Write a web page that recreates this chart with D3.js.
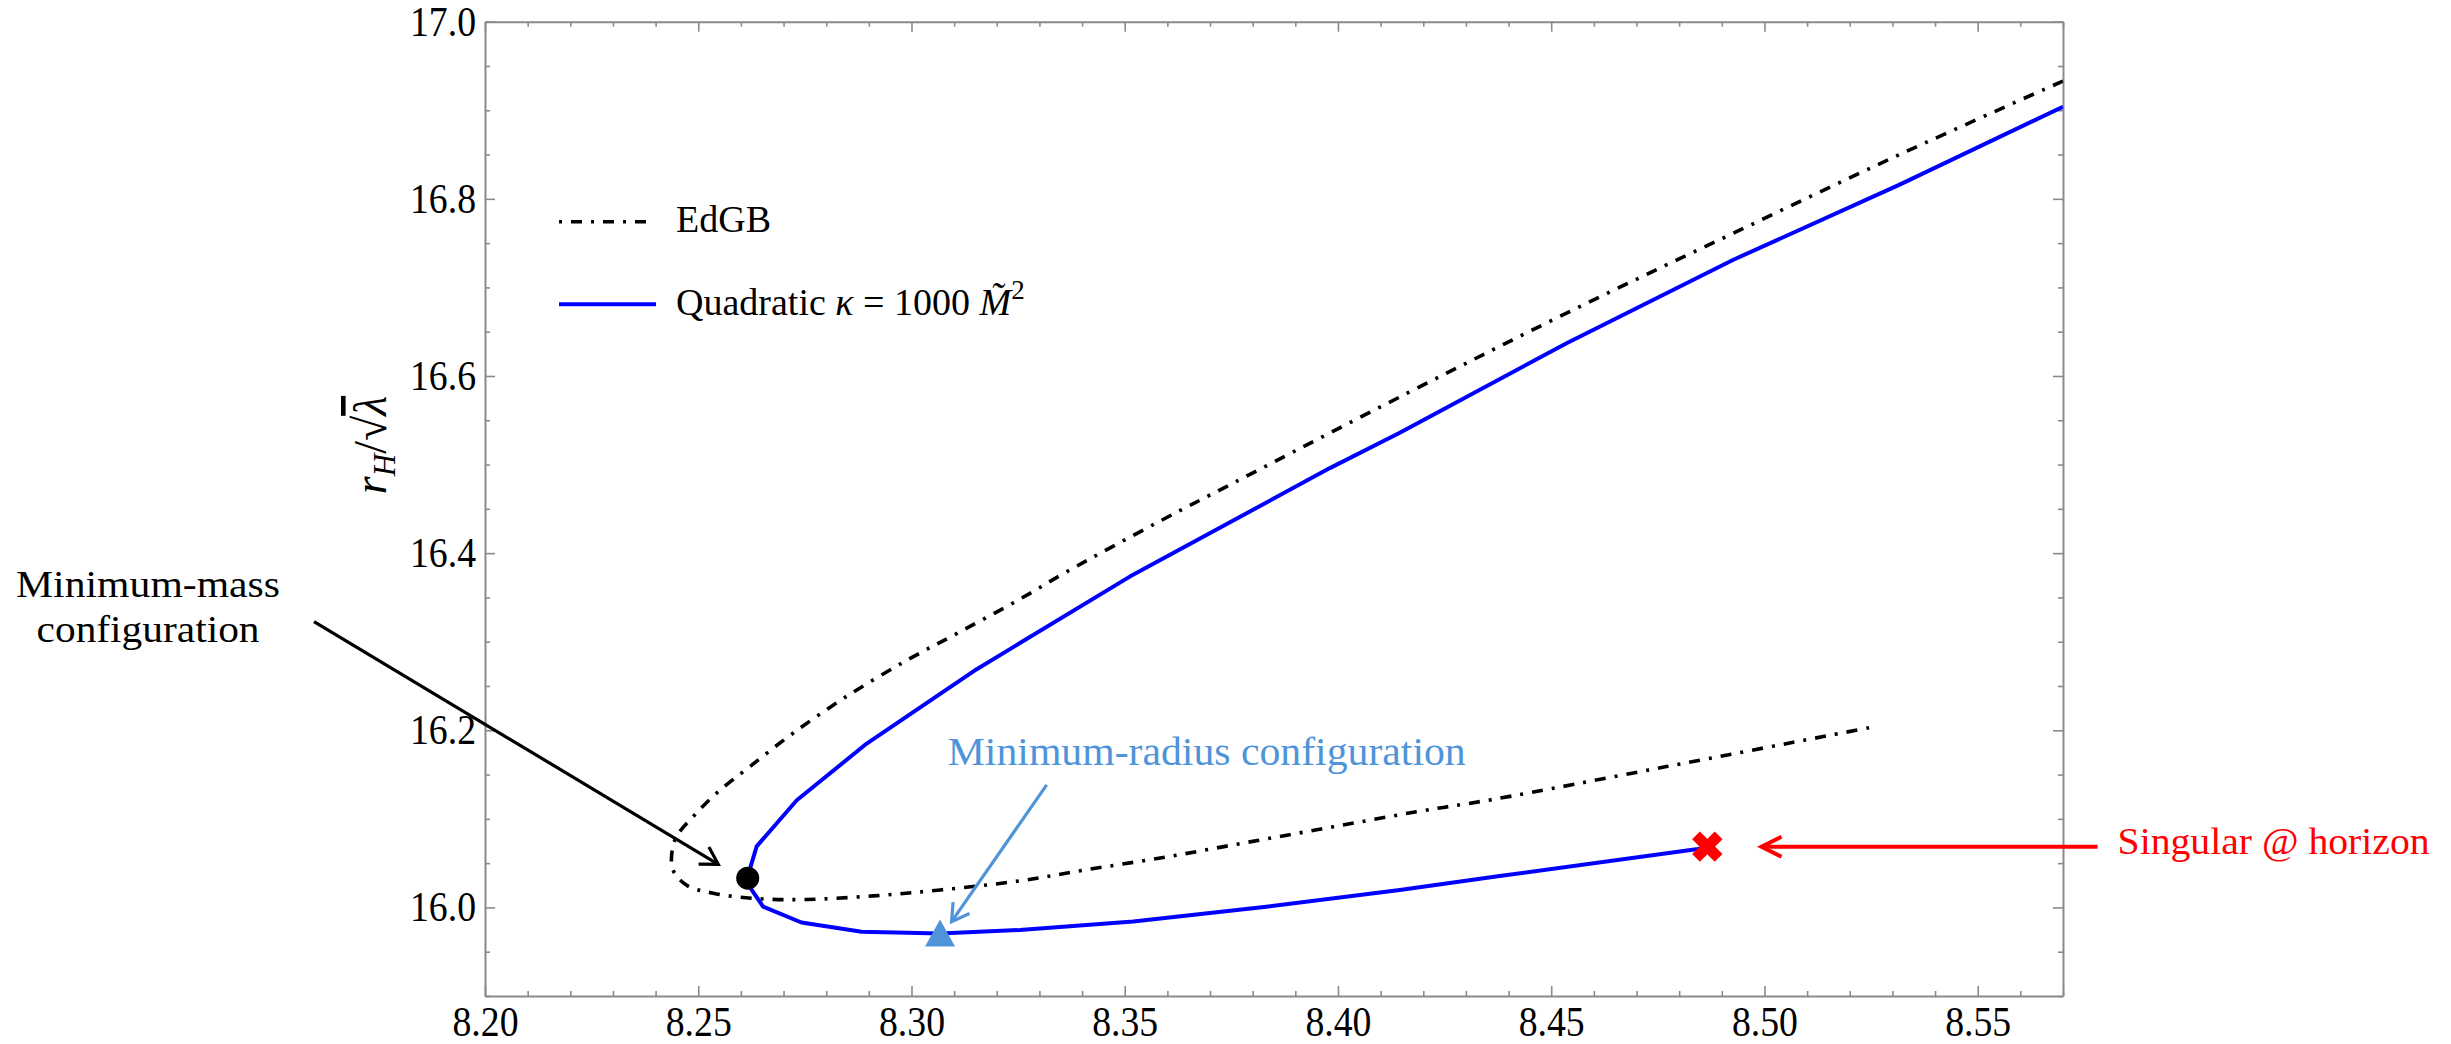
<!DOCTYPE html>
<html><head><meta charset="utf-8">
<script src="https://cdn.jsdelivr.net/npm/d3@7"></script>
<style>
body{margin:0;background:#fff}
text{font-family:"Liberation Serif","Times New Roman",serif}
</style>
</head><body>
<svg id="c" width="2451" height="1044"></svg>
<script>
// ---- data ----
const edgbM = [8.57,8.5317,8.4926,8.4536,8.416,8.3754,8.3582,8.3364,8.3254,8.3113,8.2989,8.2847,8.2723,8.2621,8.2543,8.2488,8.2449,8.2438,8.2441,8.2473,8.2535,8.2637,8.2754,8.2910,8.3067,8.3254,8.3403,8.3598,8.3793,8.3989,8.4184,8.4364,8.477,8.5247];
const edgbR = [16.933,16.850,16.761,16.671,16.580,16.479,16.436,16.379,16.348,16.311,16.279,16.238,16.197,16.159,16.129,16.1025,16.080,16.061,16.042,16.025,16.016,16.010,16.009,16.013,16.0197,16.030,16.042,16.057,16.074,16.091,16.108,16.122,16.159,16.203];
const quadM = [8.57,8.5317,8.4926,8.4536,8.4145,8.3981,8.3512,8.3153,8.2895,8.2731,8.2637,8.2616,8.2625,8.2652,8.2742,8.2883,8.3067,8.3254,8.352,8.3832,8.4145,8.4379,8.484,8.4866];
const quadR = [16.904,16.816,16.731,16.637,16.536,16.496,16.3735,16.269,16.185,16.121,16.069,16.035,16.020,16.001,15.983,15.9725,15.9707,15.9745,15.984,16.0008,16.0197,16.0355,16.0656,16.0686];
const minMass = [8.2616, 16.033];
const minRadius = [8.3067, 15.966];
const singular = [8.4866, 16.0686];
const xMajor = [8.20,8.25,8.30,8.35,8.40,8.45,8.50,8.55];
const yMajor = [16.0,16.2,16.4,16.6,16.8,17.0];
const xDomain = [8.20, 8.57];
const yDomain = [15.9, 17.0];
const legendLabels = ["EdGB", "Quadratic"];

// ---- layout ----
const L = 485, R = 2063, T = 21.7, B = 996;
const FONT = "Liberation Serif, Times New Roman, serif";
const svg = d3.select("#c");
const x = d3.scaleLinear(xDomain, [L, R]);
const y = d3.scaleLinear(yDomain, [B, T]);
const xMinor = d3.range(0, 38).map(i => +(8.20 + i*0.01).toFixed(2)).filter(v => !xMajor.some(m => Math.abs(m-v)<1e-6));
const yMinor = d3.range(0, 23).map(i => +(15.9 + i*0.05).toFixed(2)).filter(v => !yMajor.some(m => Math.abs(m-v)<1e-6));

const AX = "#8a8a8a";
function styleAxis(g, fs){
  g.attr("font-family", FONT).attr("font-size", fs);
  g.select(".domain").attr("stroke", AX).attr("stroke-width", 2);
  g.selectAll(".tick line").attr("stroke", AX).attr("stroke-width", 1.6);
  g.selectAll(".tick text").attr("fill", "#000").attr("font-family", FONT).attr("font-size", fs)
    .attr("textLength", 66).attr("lengthAdjust", "spacingAndGlyphs");
}
function minorAxis(gen, tr){
  const g = svg.append("g").attr("transform", tr).call(gen);
  g.select(".domain").remove();
  g.selectAll(".tick line").attr("stroke", AX).attr("stroke-width", 1.6);
  g.selectAll(".tick text").remove();
}
// minor ticks
minorAxis(d3.axisBottom(x).tickValues(xMinor).tickSize(-5).tickSizeOuter(0), `translate(0,${B})`);
minorAxis(d3.axisTop(x).tickValues(xMinor).tickSize(-5).tickSizeOuter(0), `translate(0,${T})`);
minorAxis(d3.axisLeft(y).tickValues(yMinor).tickSize(-5).tickSizeOuter(0), `translate(${L},0)`);
minorAxis(d3.axisRight(y).tickValues(yMinor).tickSize(-5).tickSizeOuter(0), `translate(${R},0)`);
// major
styleAxis(svg.append("g").attr("transform", `translate(0,${B})`)
  .call(d3.axisBottom(x).tickValues(xMajor).tickSize(-10).tickSizeOuter(0).tickPadding(10).tickFormat(d3.format(".2f"))), 42);
styleAxis(svg.append("g").attr("transform", `translate(0,${T})`)
  .call(d3.axisTop(x).tickValues(xMajor).tickSize(-10).tickSizeOuter(0).tickFormat("")), 42);
styleAxis(svg.append("g").attr("transform", `translate(${L},0)`)
  .call(d3.axisLeft(y).tickValues(yMajor).tickSize(-10).tickSizeOuter(0).tickPadding(9).tickFormat(d3.format(".1f"))), 42);
styleAxis(svg.append("g").attr("transform", `translate(${R},0)`)
  .call(d3.axisRight(y).tickValues(yMajor).tickSize(-10).tickSizeOuter(0).tickFormat("")), 42);

// y label
const yl = svg.append("text").attr("transform", "translate(386,445) rotate(-90)")
  .attr("text-anchor", "middle").style("font-size", "46px").attr("fill", "#000");
yl.append("tspan").attr("font-style", "italic").text("r");
yl.append("tspan").attr("font-style", "italic").attr("dy", 9).style("font-size", "31px").text("H");
yl.append("tspan").attr("dy", -9).text("/\u221A");
yl.append("tspan").attr("font-style", "italic").style("text-decoration", "overline").text("\u03BB");

// clip
svg.append("clipPath").attr("id", "clip").append("rect").attr("x", L).attr("y", T).attr("width", R-L).attr("height", B-T);
const plot = svg.append("g").attr("clip-path", "url(#clip)");

const edgb = edgbM.map((m,i) => [m, edgbR[i]]);
const quad = quadM.map((m,i) => [m, quadR[i]]);
const line = d3.line().x(d => x(d[0])).y(d => y(d[1]));

plot.append("path").datum(edgb).attr("d", line.curve(d3.curveCatmullRom.alpha(0.5)))
  .attr("fill", "none").attr("stroke", "#000").attr("stroke-width", 3.6).attr("stroke-dasharray", "11,9,3,9");
plot.append("path").datum(quad).attr("d", line.curve(d3.curveLinear))
  .attr("fill", "none").attr("stroke", "#0000ff").attr("stroke-width", 4).attr("stroke-linejoin", "round");

// markers
const LB = "#4f94d9";
svg.append("circle").attr("cx", x(minMass[0])).attr("cy", y(minMass[1])).attr("r", 11.5).attr("fill", "#000");
svg.append("path").attr("transform", `translate(${x(minRadius[0])},${y(minRadius[1])})`)
  .attr("d", "M0,-18L15,9L-15,9Z").attr("fill", LB);
const xg = svg.append("g").attr("transform", `translate(${x(singular[0])},${y(singular[1])})`);
[45, -45].forEach(a => xg.append("rect").attr("x", -16).attr("y", -5.5).attr("width", 32).attr("height", 11)
  .attr("transform", `rotate(${a})`).attr("fill", "#ff0000"));

// annotations (anchored in data coordinates)
function arrow(from, to, color, sw, back, half){
  const x1 = x(from[0]), y1 = y(from[1]), x2 = x(to[0]), y2 = y(to[1]);
  const ang = Math.atan2(y2-y1, x2-x1);
  const ux = Math.cos(ang), uy = Math.sin(ang);
  const ax = x2 - ux*back, ay = y2 - uy*back;
  const p1 = [ax - uy*half, ay + ux*half], p2 = [ax + uy*half, ay - ux*half];
  svg.append("line").attr("x1", x1).attr("y1", y1).attr("x2", x2).attr("y2", y2)
    .attr("stroke", color).attr("stroke-width", sw);
  svg.append("path").attr("d", `M${p1}L${x2},${y2}L${p2}`).attr("fill", "none")
    .attr("stroke", color).attr("stroke-width", sw).attr("stroke-linejoin", "miter");
}
arrow([8.1599, 16.3227], [8.2547, 16.0487], "#000", 3.2, 17, 10);
arrow([8.3317, 16.1383], [8.3094, 15.9839], LB, 3.2, 17, 10);
arrow([8.5781, 16.0686], [8.4993, 16.0686], "#ff0000", 4, 20, 10);

svg.append("text").attr("x", x(8.121)).attr("y", y(16.3505)).attr("text-anchor", "middle")
  .style("font-size", "38px").attr("textLength", 264).attr("lengthAdjust", "spacingAndGlyphs").text("Minimum-mass");
svg.append("text").attr("x", x(8.121)).attr("y", y(16.2997)).attr("text-anchor", "middle")
  .style("font-size", "38px").attr("textLength", 223).attr("lengthAdjust", "spacingAndGlyphs").text("configuration");
svg.append("text").attr("x", x(8.3085)).attr("y", y(16.1608)).attr("fill", LB)
  .style("font-size", "39px").attr("textLength", 518).attr("lengthAdjust", "spacingAndGlyphs").text("Minimum-radius configuration");
svg.append("text").attr("x", x(8.5828)).attr("y", y(16.0603)).attr("fill", "#ff0000")
  .style("font-size", "37px").attr("textLength", 312).attr("lengthAdjust", "spacingAndGlyphs").text("Singular @ horizon");

// legend
const lg = svg.append("g");
lg.append("line").attr("x1", 559).attr("x2", 646).attr("y1", 221.7).attr("y2", 221.7)
  .attr("stroke", "#000").attr("stroke-width", 3.6).attr("stroke-dasharray", "3,9,11,9");
lg.append("text").attr("x", 676).attr("y", 232).style("font-size", "38px").text(legendLabels[0]);
lg.append("line").attr("x1", 559).attr("x2", 656).attr("y1", 304.3).attr("y2", 304.3)
  .attr("stroke", "#0000ff").attr("stroke-width", 4);
const qt = lg.append("text").attr("x", 676).attr("y", 315).style("font-size", "38px");
qt.append("tspan").text(legendLabels[1] + " ");
qt.append("tspan").attr("font-style", "italic").text("\u03BA");
qt.append("tspan").text(" = 1000 ");
qt.append("tspan").attr("font-style", "italic").text("M\u0303");
qt.append("tspan").attr("dy", -16).style("font-size", "27px").text("2");
</script>
</body></html>
